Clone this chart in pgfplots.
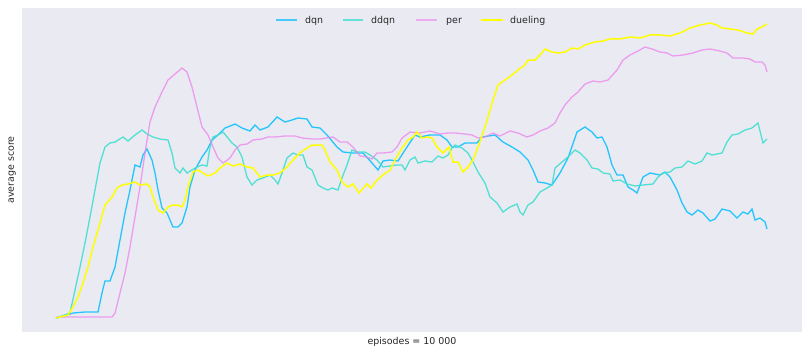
\documentclass[border=0pt]{standalone}
\usepackage{pgfplots}
\pgfplotsset{compat=1.18}
\usepackage{fontspec}
\setmainfont{DejaVu Sans}
\definecolor{bgc}{HTML}{EAEAF2}
\definecolor{txt}{HTML}{262626}
\definecolor{cdqn}{HTML}{00BFFF}
\definecolor{cddqn}{HTML}{40E0D0}
\definecolor{cper}{HTML}{EE82EE}
\definecolor{cduel}{HTML}{FFFF00}
\begin{document}
\fontsize{9.5}{11}\selectfont
\begin{tikzpicture}
\begin{axis}[
  scale only axis, width=780bp, height=324bp,
  xmin=22, xmax=802, ymin=8, ymax=332, y dir=reverse,
  axis background/.style={fill=bgc},
  axis line style={draw=none},
  ticks=none,
  xlabel={\textcolor{txt}{episodes = 10 000}}, ylabel={\textcolor{txt}{average score}},
  label style={font=\fontsize{9.5}{11}\selectfont},
  xlabel style={at={(axis description cs:0.5,0)}, anchor=north, inner sep=0pt, yshift=-5bp},
  ylabel style={at={(axis description cs:0,0.5)}, anchor=south, inner sep=0pt, yshift=6bp},
]
\coordinate (ll) at (rel axis cs:0,0);
\coordinate (ur) at (rel axis cs:1,1);
\coordinate (tl) at (rel axis cs:0,1);
\addplot[cdqn, draw opacity=0.85, line width=1.3bp] coordinates {(56,318)(65,316)(73,313)(85,312)(98,312)(102,293)(105,281)(110,281)(115,267)(120,240)(125,213)(130,190)(135,165)(140,167)(143,155)(147,149)(152,160)(155,173)(158,190)(162,208)(167,213)(173,227)(178,227)(182,223)(187,207)(190,187)(195,170)(202,157)(207,150)(212,140)(218,135)(225,128)(235,124)(242,128)(250,131)(255,125)(260,130)(268,127)(277,117)(285,122)(292,120)(298,118)(307,119)(312,127)(320,128)(327,135)(337,147)(343,152)(353,153)(363,153)(372,163)(378,170)(383,161)(390,160)(398,161)(407,147)(415,135)(420,137)(430,135)(440,135)(447,140)(452,147)(458,147)(465,143)(477,143)(482,137)(495,135)(503,142)(512,147)(520,152)(528,160)(533,170)(538,182)(545,183)(552,185)(560,173)(568,158)(577,132)(585,127)(592,132)(597,138)(602,137)(607,147)(612,165)(617,175)(623,175)(628,187)(633,190)(637,193)(643,177)(650,173)(660,175)(665,172)(670,177)(677,190)(682,203)(687,212)(692,215)(698,210)(703,213)(710,221)(715,219)(722,209)(730,211)(737,218)(743,212)(748,214)(752,209)(755,220)(760,218)(765,222)(767,229)};
\addplot[cddqn, draw opacity=0.9, line width=1.3bp] coordinates {(56,318)(70,313)(75,290)(80,267)(85,243)(90,217)(95,190)(100,163)(105,147)(110,143)(115,142)(123,137)(128,141)(135,135)(142,130)(147,134)(153,137)(160,139)(168,140)(172,153)(175,168)(180,173)(183,168)(187,173)(192,170)(197,167)(202,165)(207,166)(210,147)(213,137)(218,135)(223,132)(228,138)(232,143)(237,147)(242,157)(247,177)(252,185)(257,180)(263,178)(270,175)(275,180)(278,184)(282,173)(287,158)(293,153)(298,155)(303,155)(307,167)(312,170)(318,185)(323,188)(328,190)(332,188)(338,190)(342,178)(347,165)(352,150)(357,152)(365,152)(370,155)(377,160)(383,167)(390,166)(397,165)(402,165)(405,170)(410,160)(415,157)(418,163)(425,161)(432,162)(438,156)(443,158)(448,155)(452,148)(455,145)(462,148)(468,153)(473,162)(478,172)(485,183)(490,197)(497,203)(503,212)(510,207)(517,204)(520,212)(523,215)(528,205)(533,202)(540,192)(547,188)(552,185)(555,168)(562,162)(568,157)(575,150)(580,153)(587,160)(592,168)(598,169)(603,173)(610,174)(613,181)(620,180)(627,184)(635,186)(643,185)(653,184)(658,177)(663,173)(670,172)(675,168)(682,167)(688,161)(695,164)(702,161)(707,153)(712,155)(722,153)(727,142)(732,135)(738,134)(745,130)(752,128)(758,123)(763,143)(767,139)};
\addplot[cper, draw opacity=0.75, line width=1.3bp] coordinates {(56,317)(112,317)(115,313)(120,293)(125,273)(130,247)(135,217)(140,187)(145,153)(150,122)(155,107)(162,92)(168,80)(175,74)(182,68)(187,72)(192,87)(197,107)(202,127)(208,135)(213,147)(218,158)(223,163)(230,158)(235,150)(240,145)(247,144)(253,140)(262,139)(268,137)(275,137)(285,136)(295,136)(302,138)(312,139)(320,139)(333,137)(340,142)(347,142)(353,147)(360,156)(367,157)(372,159)(377,153)(383,153)(392,152)(397,147)(402,138)(410,132)(420,133)(430,131)(440,134)(448,133)(455,133)(465,134)(472,135)(478,138)(485,137)(493,133)(500,136)(510,131)(518,133)(527,137)(533,135)(540,131)(548,128)(555,123)(560,113)(565,105)(572,97)(578,92)(585,84)(593,81)(600,82)(608,80)(617,70)(623,60)(630,55)(638,51)(645,47)(652,49)(660,52)(667,53)(673,56)(683,55)(693,53)(702,50)(710,49)(720,51)(727,53)(733,58)(743,58)(750,59)(755,62)(762,62)(765,65)(767,72)};
\addplot[cduel, line width=1.5bp] coordinates {(56,318)(68,315)(73,307)(78,297)(83,283)(88,267)(93,247)(100,223)(105,205)(112,197)(117,188)(122,185)(128,184)(135,182)(140,185)(147,184)(150,187)(153,197)(158,210)(163,213)(168,207)(173,205)(178,205)(182,207)(185,200)(188,187)(193,172)(198,170)(203,173)(208,176)(215,173)(220,168)(227,163)(233,166)(240,164)(247,167)(253,168)(260,177)(267,175)(273,175)(280,173)(287,167)(293,160)(300,153)(307,148)(312,145)(322,145)(325,150)(330,162)(337,170)(342,182)(348,187)(353,184)(359,193)(367,184)(371,188)(377,180)(383,175)(390,170)(395,160)(402,148)(408,140)(413,137)(417,132)(422,138)(427,137)(432,138)(437,147)(443,153)(446,150)(449,147)(453,162)(458,162)(463,172)(468,167)(473,160)(478,147)(483,133)(488,117)(493,100)(498,85)(505,80)(512,75)(518,70)(525,65)(528,60)(535,60)(540,55)(545,49)(552,52)(558,53)(565,52)(572,48)(578,49)(585,45)(595,42)(603,41)(610,39)(620,39)(630,37)(640,38)(650,35)(660,35)(670,36)(680,33)(690,28)(700,25)(710,23)(717,25)(722,28)(730,29)(738,30)(747,33)(753,34)(757,29)(762,27)(767,24)};
\end{axis}
% legend (top centre)
\draw[cdqn, draw opacity=0.7, line width=1.5bp] ([xshift=254bp,yshift=-12bp]tl) -- ([xshift=275bp,yshift=-12bp]tl);
\node[anchor=base west, inner sep=0pt, text=txt] at ([xshift=283bp,yshift=-16bp]tl) {dqn};
\draw[cddqn, draw opacity=0.8, line width=1.5bp] ([xshift=321bp,yshift=-12bp]tl) -- ([xshift=341bp,yshift=-12bp]tl);
\node[anchor=base west, inner sep=0pt, text=txt] at ([xshift=349bp,yshift=-16bp]tl) {ddqn};
\draw[cper, draw opacity=0.6, line width=1.5bp] ([xshift=394bp,yshift=-12bp]tl) -- ([xshift=415bp,yshift=-12bp]tl);
\node[anchor=base west, inner sep=0pt, text=txt] at ([xshift=424bp,yshift=-16bp]tl) {per};
\draw[cduel, line width=1.5bp] ([xshift=459bp,yshift=-12bp]tl) -- ([xshift=481bp,yshift=-12bp]tl);
\node[anchor=base west, inner sep=0pt, text=txt] at ([xshift=488bp,yshift=-16bp]tl) {dueling};
\path[use as bounding box] ([xshift=-22bp,yshift=-22bp]ll) rectangle ([xshift=7bp,yshift=8bp]ur);
\end{tikzpicture}
\end{document}
